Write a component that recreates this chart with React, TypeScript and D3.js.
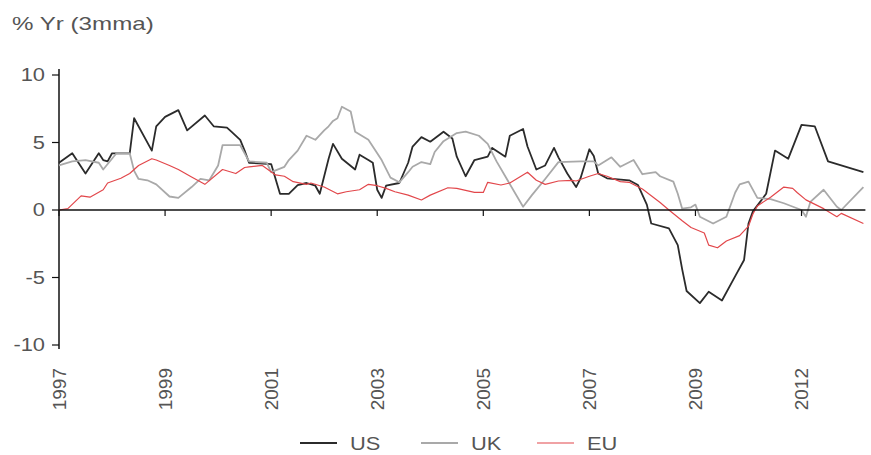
import React from "react";
import * as d3 from "d3";

// Monthly index from Jan 1997
const tickMonths = [0, 24, 48, 72, 96, 120, 144, 168];
const tickLabels = ["1997", "1999", "2001", "2003", "2005", "2007", "2009", "2012"];
const yTicks = [10, 5, 0, -5, -10];

const usMonths = [0,3,6,7,9,10,11,12,16,17,21,22,24,27,29,33,35,38,39,41,42,43,48,50,52,54,56,58,59,61,62,64,67,68,70,71,72,73,74,77,79,80,82,84,87,89,90,92,94,97,98,101,102,105,106,108,110,112,113,115,117,118,120,121,122,124,129,131,133,134,138,140,141,142,145,147,150,153,155,156,157,160,162,165,168,171,174,182];
const usValues = [3.5,4.2,2.7,3.2,4.2,3.7,3.6,4.2,4.2,6.8,4.4,6.2,6.9,7.4,5.9,7.0,6.2,6.1,5.8,5.2,4.4,3.5,3.4,1.2,1.2,1.85,2.0,1.8,1.2,3.8,4.9,3.8,3.0,4.1,3.7,3.5,1.5,0.9,1.8,2.0,3.5,4.7,5.4,5.06,5.8,5.3,3.95,2.5,3.7,3.95,4.6,3.95,5.5,6.0,4.7,3.0,3.3,4.6,3.9,2.7,1.7,2.35,4.5,4.0,2.7,2.35,2.2,1.85,0.4,-1.0,-1.36,-2.6,-4.4,-6.0,-6.9,-6.05,-6.7,-4.9,-3.7,-1.0,-0.1,1.2,4.4,3.8,6.3,6.2,3.6,2.8];

const ukMonths = [0,3,6,9,10,13,16,17,18,20,22,25,27,30,32,34,36,37,41,43,47,48,51,52,54,56,58,60,61,62,63,64,66,67,70,73,75,77,79,80,82,84,85,87,90,92,95,97,99,105,107,110,113,118,121,122,125,127,130,132,135,136,139,140,141,143,144,145,148,151,153,154,156,158,161,164,168,169,170,173,176,177,182];
const ukValues = [3.3,3.6,3.7,3.5,3.0,4.2,4.2,2.9,2.3,2.2,1.9,1.0,0.9,1.7,2.3,2.2,3.3,4.8,4.8,3.6,3.5,2.8,3.2,3.7,4.4,5.5,5.2,5.9,6.2,6.6,6.8,7.65,7.3,5.8,5.2,3.7,2.4,2.05,2.8,3.2,3.55,3.4,4.3,5.1,5.7,5.8,5.5,4.9,3.6,0.24,1.1,2.3,3.55,3.6,3.6,3.3,3.9,3.2,3.7,2.65,2.8,2.5,2.1,1.2,0.1,0.2,0.4,-0.5,-1.0,-0.5,1.3,1.9,2.1,0.9,0.8,0.5,0.0,-0.5,0.6,1.5,0.24,0.0,1.7];

const euMonths = [0,2,5,7,10,11,14,16,18,21,22,25,27,30,33,37,40,42,43,46,49,51,53,56,57,60,63,65,68,70,72,74,76,79,82,84,88,90,94,96,97,100,102,106,108,110,113,116,117,120,122,124,127,129,132,134,136,138,141,143,146,147,149,151,154,156,157,158,161,164,166,167,169,173,176,177,182];
const euValues = [0.0,0.1,1.05,0.95,1.5,2.0,2.35,2.7,3.3,3.8,3.7,3.3,3.0,2.45,1.9,3.0,2.7,3.15,3.2,3.3,2.6,2.5,2.1,1.9,2.0,1.7,1.2,1.35,1.5,1.9,1.8,1.6,1.35,1.1,0.74,1.1,1.65,1.6,1.3,1.3,2.05,1.85,2.0,2.8,2.2,1.9,2.15,2.2,2.15,2.5,2.7,2.5,2.1,2.05,1.55,1.05,0.55,0.0,-0.8,-1.3,-1.7,-2.6,-2.8,-2.3,-1.9,-1.2,-0.3,0.3,0.95,1.7,1.6,1.3,0.75,0.1,-0.5,-0.25,-1.0];

const seriesNames = ["US", "UK", "EU"];
const seriesColors = ["#2b2b2b", "#a9a9a9", "#e2474b"];
const seriesWidths = [1.8, 1.8, 1.2];

const W = 871;
const H = 455;
const FONT = "'Liberation Sans', Arial, sans-serif";
const TEXT = "#555555";
const SX = 1.25;

export default function App() {
  const x = d3.scaleLinear().domain([0, 182]).range([59, 863.4]);
  const y = d3.scaleLinear().domain([-10, 10]).range([345, 75]);

  const series = [
    usMonths.map((m, i) => [m, usValues[i]] as [number, number]),
    ukMonths.map((m, i) => [m, ukValues[i]] as [number, number]),
    euMonths.map((m, i) => [m, euValues[i]] as [number, number]),
  ];
  const line = d3
    .line<[number, number]>()
    .x((d) => x(d[0]))
    .y((d) => y(d[1]));

  const legendX = [300, 421, 537];

  return (
    <svg
      width={W}
      height={H}
      style={{ position: "absolute", left: 0, top: 0, background: "#fff" }}
      fontFamily={FONT}
    >
      <rect x={0} y={0} width={W} height={H} fill="#fff" />
      <text
        transform={`translate(12,30) scale(1.38,1)`}
        fontSize={17.5}
        fill={TEXT}
      >
        % Yr (3mma)
      </text>

      {/* y axis */}
      <line x1={x(0)} x2={x(0)} y1={y(10) - 6} y2={y(-10) + 4} stroke="#111" strokeWidth={1.5} />
      {yTicks.map((t) => (
        <g key={t}>
          <line x1={x(0) - 7} x2={x(0)} y1={y(t)} y2={y(t)} stroke="#111" strokeWidth={1.2} />
          <text
            transform={`translate(${x(0) - 14},${y(t)}) scale(${SX},1)`}
            textAnchor="end"
            dominantBaseline="central"
            fontSize={17.5}
            fill={TEXT}
          >
            {t}
          </text>
        </g>
      ))}

      {/* lines */}
      {series.map((s, i) => (
        <path
          key={seriesNames[i]}
          d={line(s) || ""}
          fill="none"
          stroke={seriesColors[i]}
          strokeWidth={seriesWidths[i]}
          strokeLinejoin="round"
        />
      ))}

      {/* x axis at zero */}
      <line x1={x(0)} x2={x(182) + 2} y1={y(0)} y2={y(0)} stroke="#111" strokeWidth={1.5} />
      {tickMonths.map((m, i) => (
        <g key={m}>
          <line x1={x(m)} x2={x(m)} y1={y(0)} y2={y(0) + 6} stroke="#111" strokeWidth={1.2} />
          <text
            transform={`translate(${x(m)},368) rotate(-90)`}
            textAnchor="end"
            dominantBaseline="central"
            fontSize={19}
            fill={TEXT}
          >
            {tickLabels[i]}
          </text>
        </g>
      ))}

      {/* legend */}
      {seriesNames.map((n, i) => (
        <g key={n}>
          <line
            x1={legendX[i]}
            x2={legendX[i] + 37}
            y1={443}
            y2={443}
            stroke={seriesColors[i]}
            strokeWidth={seriesWidths[i]}
          />
          <text
            transform={`translate(${legendX[i] + 50},443) scale(1.15,1)`}
            dominantBaseline="central"
            fontSize={19}
            fill={TEXT}
          >
            {n}
          </text>
        </g>
      ))}
    </svg>
  );
}
